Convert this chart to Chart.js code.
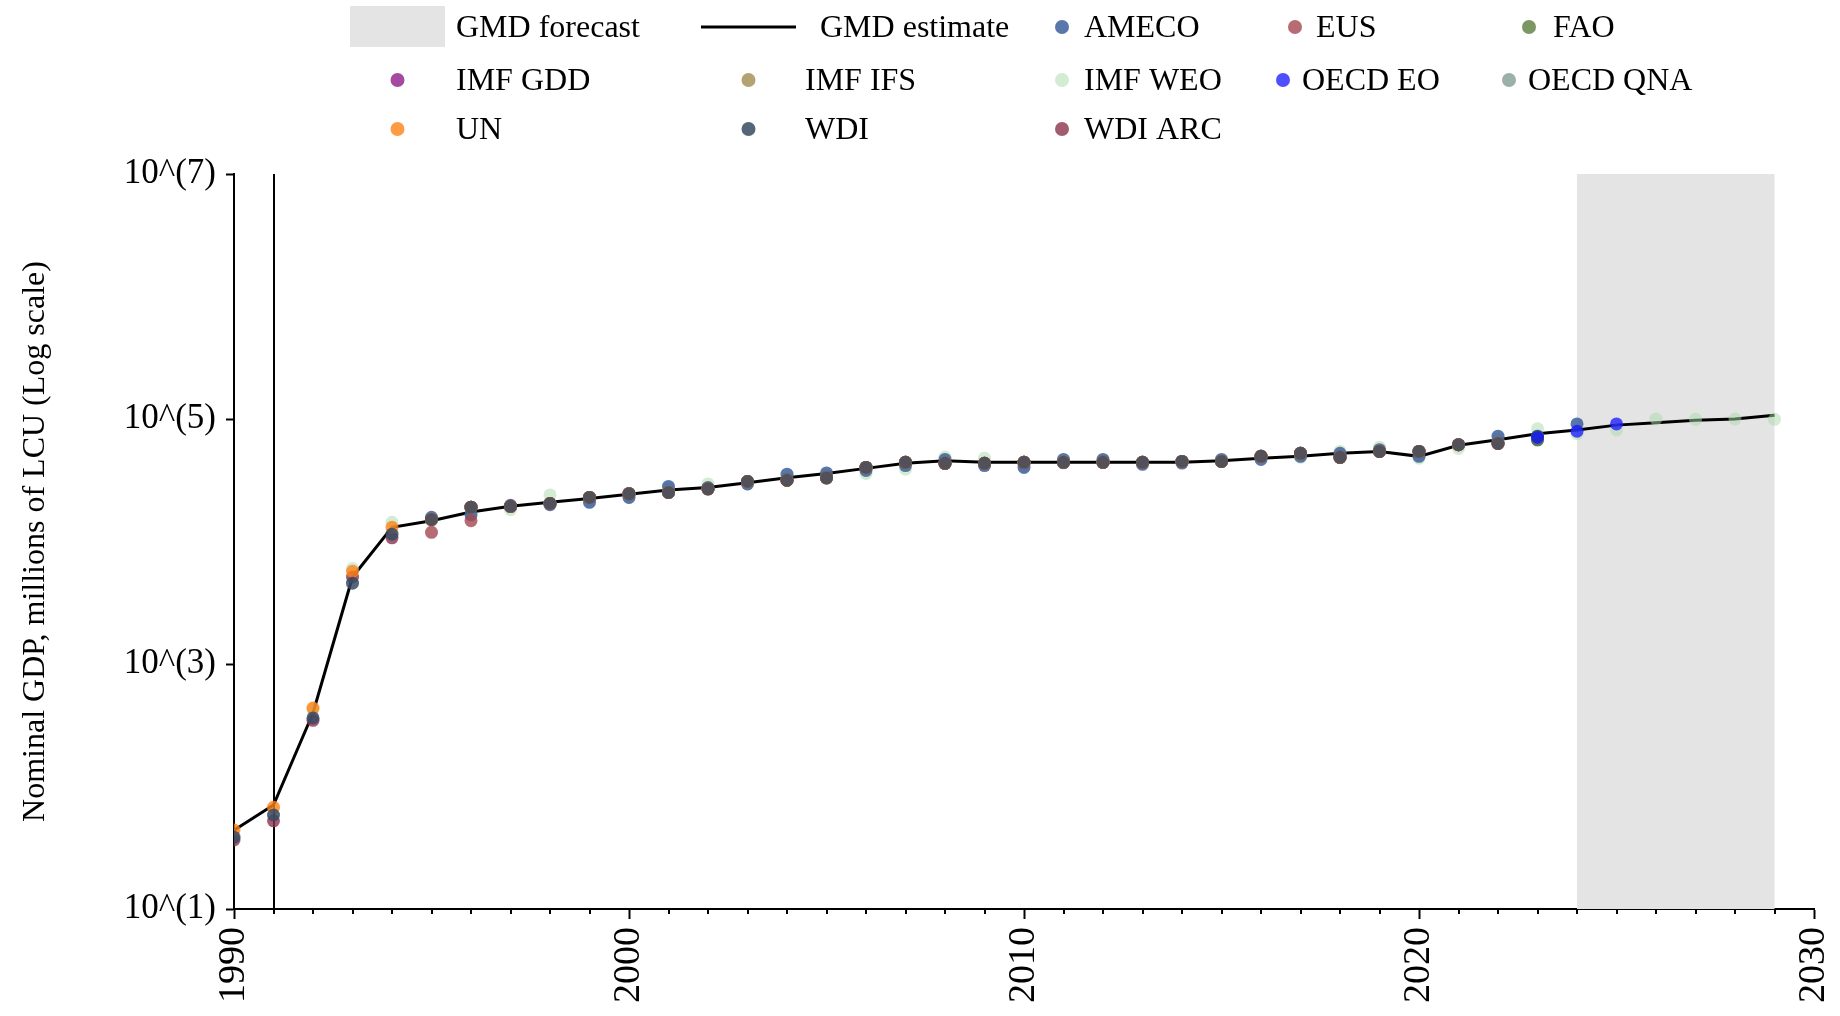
<!DOCTYPE html>
<html>
<head>
<meta charset="utf-8">
<title>Nominal GDP</title>
<script src="https://cdn.jsdelivr.net/npm/chart.js@4.4.0/dist/chart.umd.min.js"></script>
<style>
  html, body { margin: 0; padding: 0; background: #fff; }
  #wrap { width: 1840px; height: 1016px; position: relative; }
</style>
</head>
<body>
<div id="wrap"><canvas id="gdpChart"></canvas></div>
<script>
// years on the x axis
const years = [1990, 1991, 1992, 1993, 1994, 1995, 1996, 1997, 1998, 1999,
               2000, 2001, 2002, 2003, 2004, 2005, 2006, 2007, 2008, 2009,
               2010, 2011, 2012, 2013, 2014, 2015, 2016, 2017, 2018, 2019,
               2020, 2021, 2022, 2023, 2024, 2025, 2026, 2027, 2028, 2029];

// nominal GDP, millions of LCU (null = no value)
const gmdEstimate = [44, 70.5, 398, 5130, 13060, 14790, 17380, 19360, 20890, 22390,
                     24270, 26300, 27540, 30200, 33110, 35970, 39540, 43450, 45710, 44260,
                     44260, 44260, 44260, 44260, 44260, 45710, 47860, 49550, 52480, 54330,
                     49550, 60950, 67610, 75860, 81280, 89130, 93330, 97720, 100000, 107150];

const ameco = [null, null, null, null, null, 15740, 16600, 19720, 19950, 20890,
               22910, 28180, 27540, 29510, 35480, 36310, 38020, 41690, 46770, 41690,
               40270, 46770, 46770, 42660, 43650, 46770, 46770, 49550, 52480, 56230,
               49550, 61660, 72440, 67610, 91200, null, null, null, null, null];

const eus = [null, null, null, null, null, 11890, 14790, 19360, 20420, 22910,
             24550, 25120, 26920, 30900, 31620, 33110, 40270, 44260, 43450, 43450,
             44260, 44260, 44260, 44260, 45080, 45080, 49550, 52480, 48640, 54330,
             54330, 61660, 63100, null, null, null, null, null, null, null];

const fao = [null, null, null, null, null, 15140, 19050, 19360, 20420, 22910,
             24550, 25120, 26920, 30900, 31620, 33110, 40270, 44260, 43450, 43450,
             44260, 44260, 44260, 44260, 45080, 45080, 49550, 52480, 48640, 54330,
             54330, 61660, 63100, 67610, null, null, null, null, null, null];

const imfGdd = [null, null, null, null, null, 15140, 19050, 19360, 20420, 22910,
                24550, 25120, 26920, 30900, 31620, 33110, 40270, 44260, 43450, 43450,
                44260, 44260, 44260, 44260, 45080, 45080, 49550, 52480, 48640, 54330,
                54330, 61660, 63100, null, null, null, null, null, null, null];

const imfIfs = [null, null, null, null, null, 15140, 19050, 19360, 20420, 22910,
                24550, 25120, 26920, 30900, 31620, 33110, 40270, 44260, 43450, 43450,
                44260, 44260, 44260, 44260, 45080, 45080, 49550, 52480, 48640, 54330,
                54330, 61660, 63100, null, null, null, null, null, null, null];

const imfWeo = [null, null, 427, 6030, 14350, 14790, 16220, 18200, 23990, 21880,
                22910, 26920, 29510, 29510, 33110, 34670, 35970, 38900, 48980, 47860,
                41690, 43650, 45710, 44260, 44260, 45710, 49550, 48640, 54330, 58880,
                47860, 57540, 67610, 83180, 75860, 81280, 100000, 99300, 100000, 99300];

const oecdEo = [null, null, null, null, null, null, null, null, null, null,
                null, null, null, null, null, null, null, null, null, null,
                null, null, null, null, null, null, null, null, null, null,
                null, null, null, 70790, 79430, 91200, null, null, null, null];

const oecdQna = [null, null, null, null, null, 15140, 19050, 19360, 20420, 22910,
                 24550, 25120, 26920, 30900, 31620, 33110, 40270, 44260, 43450, 43450,
                 44260, 44260, 44260, 44260, 45080, 45080, 49550, 52480, 48640, 54330,
                 54330, 61660, 63100, 72440, null, null, null, null, null, null];

const un = [44.1, 67.6, 437, 5710, 13060, 15140, 19050, 19360, 20420, 22910,
            24550, 25120, 26920, 30900, 31620, 33110, 40270, 44260, 43450, 43450,
            44260, 44260, 44260, 44260, 45080, 45080, 49550, 52480, 48640, 54330,
            54330, 61660, 63100, null, null, null, null, null, null, null];

const wdi = [38.6, 58.5, 363, 4570, 11480, 15140, 19050, 19360, 20420, 22910,
             24550, 25120, 26920, 30900, 31620, 33110, 40270, 44260, 43450, 43450,
             44260, 44260, 44260, 44260, 45080, 45080, 49550, 52480, 48640, 54330,
             54330, 61660, 63100, 72440, null, null, null, null, null, null];

const wdiArc = [36.6, 52.5, 347, 5130, 10720, 15140, 19050, 19360, 20420, 22910,
                24550, 25120, 26920, 30900, 31620, 33110, 40270, 44260, 43450, 43450,
                44260, 44260, 44260, 44260, 45080, 45080, 49550, 52480, 48640, 54330,
                54330, 61660, 63100, null, null, null, null, null, null, null];

const forecastRange = [2024, 2029];
const breakYears = [1991];
const yTickValues = [10, 1e3, 1e5, 1e7];
const yTitle = "Nominal GDP, millions of LCU (Log scale)";

const fontFamily = "'Liberation Serif', 'Times New Roman', serif";

function toPoints(values) {
    return years.map((yr, i) => values[i] == null ? null : { x: yr, y: values[i] }).filter(p => p);
}

// one entry per source: label, data, colour, draw order (lower = on top)
const sources = [
    { label: "AMECO",     data: ameco,   color: "rgba(60,95,155,0.85)",  order: 11 },
    { label: "EUS",       data: eus,     color: "rgba(165,70,80,0.8)",   order: 10 },
    { label: "FAO",       data: fao,     color: "rgba(90,125,60,0.8)",   order: 9 },
    { label: "IMF GDD",   data: imfGdd,  color: "rgba(140,30,140,0.8)",  order: 8 },
    { label: "IMF IFS",   data: imfIfs,  color: "rgba(160,140,80,0.8)",  order: 7 },
    { label: "IMF WEO",   data: imfWeo,  color: "rgba(170,215,170,0.5)", order: 12 },
    { label: "OECD EO",   data: oecdEo,  color: "rgba(20,20,255,0.75)",  order: 1 },
    { label: "OECD QNA",  data: oecdQna, color: "rgba(120,150,140,0.75)", order: 6 },
    { label: "UN",        data: un,      color: "rgba(255,130,20,0.8)",  order: 4 },
    { label: "WDI",       data: wdi,     color: "rgba(55,75,100,0.85)",  order: 3 },
    { label: "WDI ARC",   data: wdiArc,  color: "rgba(140,50,75,0.8)",   order: 5 }
];

const datasets = [{
    label: "GMD estimate",
    data: toPoints(gmdEstimate),
    showLine: true,
    borderColor: "#000",
    borderWidth: 3,
    pointRadius: 0,
    fill: false,
    order: 20
}].concat(sources.map(s => ({
    label: s.label,
    data: toPoints(s.data),
    showLine: false,
    backgroundColor: s.color,
    borderWidth: 0,
    pointRadius: 6.5,
    pointHoverRadius: 6.5,
    order: s.order
})));

// legend slots, in legend order: icon left, icon width, text start, row centre
const legendSlots = [
    { icon: 350, w: 95, text: 456, y: 27 },   // GMD forecast
    { icon: 701, w: 95, text: 820, y: 27 },   // GMD estimate
    { icon: 1053, w: 18, text: 1084, y: 27 }, // AMECO
    { icon: 1286, w: 18, text: 1316, y: 27 }, // EUS
    { icon: 1520, w: 18, text: 1553, y: 27 }, // FAO
    { icon: 350, w: 95, text: 456, y: 80 },   // IMF GDD
    { icon: 701, w: 95, text: 805, y: 80 },   // IMF IFS
    { icon: 1053, w: 18, text: 1084, y: 80 }, // IMF WEO
    { icon: 1274, w: 18, text: 1302, y: 80 }, // OECD EO
    { icon: 1500, w: 18, text: 1528, y: 80 }, // OECD QNA
    { icon: 350, w: 95, text: 456, y: 129 },  // UN
    { icon: 701, w: 95, text: 805, y: 129 },  // WDI
    { icon: 1053, w: 18, text: 1084, y: 129 } // WDI ARC
];
const legendItems = [
    { kind: "box", label: "GMD forecast" },
    { kind: "line", label: "GMD estimate" }
].concat(sources.map(s => ({ kind: "dot", label: s.label, color: s.color })));

const framePlugin = {
    id: "frame",
    beforeDraw(chart) {
        const { ctx, width, height } = chart;
        ctx.save();
        ctx.fillStyle = "#fff";
        ctx.fillRect(0, 0, width, height);
        ctx.restore();
    },
    beforeDatasetsDraw(chart) {
        const { ctx, chartArea: area, scales: { x } } = chart;
        ctx.save();
        // forecast band
        const x0 = x.getPixelForValue(forecastRange[0]);
        const x1 = x.getPixelForValue(forecastRange[1]);
        ctx.fillStyle = "#e4e4e4";
        ctx.fillRect(x0, area.top, x1 - x0, area.bottom - area.top);
        // vertical marker lines
        ctx.strokeStyle = "#000";
        ctx.lineWidth = 2;
        breakYears.forEach(yr => {
            const px = Math.round(x.getPixelForValue(yr));
            ctx.beginPath();
            ctx.moveTo(px, area.top);
            ctx.lineTo(px, area.bottom);
            ctx.stroke();
        });
        ctx.restore();
    },
    afterDraw(chart) {
        const { ctx, chartArea: area, scales: { x } } = chart;
        ctx.save();
        // minor year ticks
        ctx.strokeStyle = "#000";
        ctx.lineWidth = 2;
        for (let yr = x.min; yr <= x.max; yr++) {
            if (yr % 10 === 0) continue;
            const px = Math.round(x.getPixelForValue(yr));
            ctx.beginPath();
            ctx.moveTo(px, area.bottom);
            ctx.lineTo(px, area.bottom + 5);
            ctx.stroke();
        }

        // legend
        ctx.font = "32px " + fontFamily;
        ctx.textBaseline = "middle";
        ctx.textAlign = "left";
        legendItems.forEach((item, i) => {
            const slot = legendSlots[i];
            const cx = slot.icon + slot.w / 2;
            if (item.kind === "box") {
                ctx.fillStyle = "#e4e4e4";
                ctx.fillRect(slot.icon, slot.y - 21, slot.w, 41);
            } else if (item.kind === "line") {
                ctx.strokeStyle = "#000";
                ctx.lineWidth = 3;
                ctx.beginPath();
                ctx.moveTo(slot.icon, slot.y);
                ctx.lineTo(slot.icon + slot.w, slot.y);
                ctx.stroke();
            } else {
                ctx.fillStyle = item.color;
                ctx.beginPath();
                ctx.arc(cx, slot.y, 7, 0, Math.PI * 2);
                ctx.fill();
            }
            ctx.fillStyle = "#000";
            ctx.fillText(item.label, slot.text, slot.y + 2);
        });
        ctx.restore();
    }
};

new Chart(document.getElementById("gdpChart"), {
    type: "scatter",
    data: { datasets: datasets },
    options: {
        responsive: true,
        maintainAspectRatio: false,
        animation: false,
        layout: { padding: { top: 174, right: 26, bottom: 0, left: 0 } },
        scales: {
            x: {
                type: "linear",
                min: 1990,
                max: 2030,
                afterFit: s => { s.height = 107; s.paddingLeft = 0; s.paddingRight = 0; },
                ticks: {
                    stepSize: 1,
                    autoSkip: false,
                    minRotation: 90,
                    maxRotation: 90,
                    padding: 8,
                    color: "#000",
                    font: { family: fontFamily, size: 38 },
                    callback: v => (v % 10 === 0 ? String(v) : "")
                },
                grid: {
                    drawOnChartArea: false,
                    tickLength: 10,
                    tickWidth: 2,
                    tickColor: c => (c.tick && c.tick.value % 10 === 0 ? "#000" : "rgba(0,0,0,0)")
                },
                border: { color: "#000", width: 2 }
            },
            y: {
                type: "logarithmic",
                min: 10,
                max: 1e7,
                afterBuildTicks: s => { s.ticks = yTickValues.map(v => ({ value: v })); },
                afterFit: s => { s.width = 234; },
                ticks: {
                    padding: 10,
                    color: "#000",
                    font: { family: fontFamily, size: 35 },
                    callback: v => "10^(" + Math.round(Math.log10(v)) + ")"
                },
                grid: {
                    drawOnChartArea: false,
                    tickLength: 8,
                    tickWidth: 2,
                    tickColor: "#000"
                },
                border: { color: "#000", width: 2 },
                title: {
                    display: true,
                    text: yTitle,
                    color: "#000",
                    font: { family: fontFamily, size: 32 },
                    padding: { top: 16, bottom: 0 }
                }
            }
        },
        plugins: {
            legend: { display: false },
            tooltip: { enabled: false }
        }
    },
    plugins: [framePlugin]
});
</script>
</body>
</html>
